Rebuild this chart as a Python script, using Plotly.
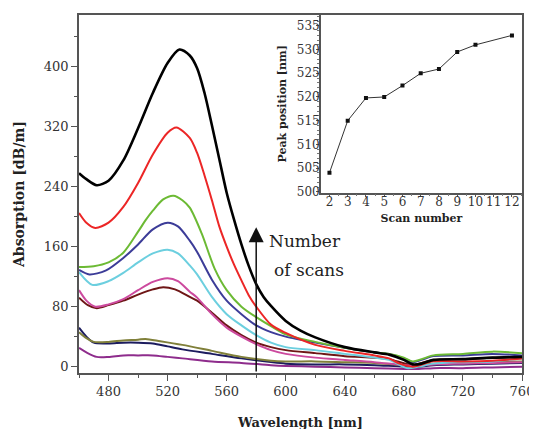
import plotly.graph_objects as go

# ---------------- data ----------------
wl_black = [460,465,472,480,490,500,510,520,528,535,540,545,550,555,560,565,570,575,580,585,590,600,610,620,640,660,670,680,686,692,700,720,740,760]
ab_black = [258,250,242,248,275,318,365,405,423,415,398,365,322,277,232,196,163,134,110,93,81,61,48,39,26,19,16,9,3,4,9,10,12,13]

wl_red = [460,465,471,480,490,500,510,520,526,535,540,545,550,555,560,565,570,575,580,590,600,620,640,660,670,677,686,700,720,740,760]
ab_red = [205,192,185,192,213,245,283,312,319,305,285,255,222,187,160,136,115,95,80,56,45,29,21,15,11,4,0,7,7,8,11]

wl_green = [460,470,480,490,500,505,510,517,524,530,535,543,552,560,570,580,590,600,620,640,660,670,680,686,692,700,720,740,760]
ab_green = [133,134,139,152,180,195,208,223,228,222,212,178,130,102,80,66,54,43,33,25,19,17,12,7,10,15,17,20,18]

wl_blue = [460,467,478,490,500,510,520,527,535,540,550,560,570,580,590,600,620,640,660,670,680,686,692,700,720,740,760]
ab_blue = [129,123,128,145,163,183,192,187,168,153,116,88,70,55,46,40,32,25,19,17,11,6,9,14,15,17,15]

wl_cyan = [460,469,480,490,500,510,520,527,535,540,550,560,570,580,590,600,620,640,660,670,682,690,700,720,740,760]
ab_cyan = [126,109,114,125,139,151,156,151,135,123,93,70,55,42,32,26,22,17,12,9,-2,0,4,6,7,11]

wl_pink = [460,465,471,480,490,500,510,520,527,535,540,550,560,570,580,590,600,620,640,660,680,690,700,720,740,760]
ab_pink = [102,88,80,83,90,102,113,118,114,100,92,70,52,40,30,22,17,12,9,6,2,1,3,4,5,6]

wl_brown = [460,466,472,480,490,500,510,517,525,535,540,550,560,570,580,590,600,620,640,660,670,686,692,700,720,740,760]
ab_brown = [92,82,78,82,88,96,103,106,103,93,88,72,55,42,32,26,22,18,14,12,10,2,5,9,10,12,13]

wl_olive = [460,465,470,480,490,500,505,515,530,550,570,590,600,620,640,660,680,690,700,720,740,760]
ab_olive = [46,38,33,33,35,36,37,34,29,21,13,8,7,7,6,5,2,2,4,5,6,7]

wl_navy = [460,465,470,480,490,500,510,520,530,550,570,590,600,620,640,660,680,690,700,720,740,760]
ab_navy = [52,40,32,31,32,32,31,27,23,17,11,6,4,3,3,2,0,0,2,3,4,5]

wl_purple = [460,465,472,480,490,500,510,520,530,550,570,590,600,620,640,660,680,690,700,720,740,760]
ab_purple = [25,19,13,13,15,15,15,13,11,7,5,2,1,0,-1,-2,-3,-3,-2,-2,-1,0]

scan_number = [2, 3, 4, 5, 6, 7, 8, 9, 10, 12]
peak_position = [504, 515, 519.8, 520, 522.4, 525, 525.9, 529.5, 531, 533]

x_ticks = [480, 520, 560, 600, 640, 680, 720, 760]
y_ticks = [0, 80, 160, 240, 320, 400]

curves = [
    (wl_purple, ab_purple, "#8e2c8c", 2),
    (wl_navy, ab_navy, "#1c1c5e", 2),
    (wl_olive, ab_olive, "#80803a", 2),
    (wl_brown, ab_brown, "#6e1616", 2),
    (wl_pink, ab_pink, "#cc4a9e", 2),
    (wl_cyan, ab_cyan, "#6ccfdf", 2),
    (wl_blue, ab_blue, "#3c3c98", 2),
    (wl_green, ab_green, "#6cba34", 2),
    (wl_red, ab_red, "#ec2626", 2),
    (wl_black, ab_black, "#000000", 2.6),
]

FONT = "DejaVu Serif"
fig = go.Figure()
for wl, ab, col, w in curves:
    fig.add_trace(go.Scatter(x=wl, y=ab, mode="lines",
                             line=dict(color=col, width=w, shape="spline", smoothing=0.8),
                             showlegend=False, xaxis="x", yaxis="y"))

fig.add_trace(go.Scatter(x=scan_number, y=peak_position, mode="lines+markers",
                         line=dict(color="#333333", width=1),
                         marker=dict(symbol="square", size=4, color="#111111"),
                         showlegend=False, xaxis="x2", yaxis="y2"))

axis_common = dict(showline=True, linecolor="#555555", linewidth=1.5, mirror=True,
                   ticks="outside", tickcolor="#555555", showgrid=False, zeroline=False,
                   automargin=False)

# the page body keeps its default 8px margin, so margins are offset by 8px
fig.update_layout(
    width=537, height=429,
    margin=dict(l=71, r=23.3, t=7, b=64),
    paper_bgcolor="white", plot_bgcolor="white",
    font=dict(family=FONT, color="#333333"),
    xaxis=dict(domain=[0, 1], range=[460, 760], tickvals=x_ticks,
               ticklen=6, tickwidth=1.2,
               minor=dict(dtick=20, tick0=460, ticklen=3, ticks="outside", tickcolor="#555555"),
               tickfont=dict(size=13, family=FONT),
               title=dict(text="<b>Wavelength [nm]</b>", font=dict(size=13, family=FONT, color="#222222"), standoff=20),
               **axis_common),
    yaxis=dict(domain=[0, 1], range=[-8.5, 469], tickvals=y_ticks,
               ticklen=6, tickwidth=1.2,
               minor=dict(dtick=40, tick0=0, ticklen=3, ticks="outside", tickcolor="#555555"),
               tickfont=dict(size=13, family=FONT),
               title=dict(text="<b>Absorption [dB/m]</b>", font=dict(size=14, family=FONT, color="#222222"), standoff=16),
               **axis_common),
    xaxis2=dict(domain=[0.546, 1], anchor="y2", range=[1.53, 12.55], dtick=1, tick0=2,
                ticklen=3, tickwidth=1, ticklabelstandoff=-6,
                minor=dict(dtick=0.5, ticklen=2, ticks="outside", tickcolor="#777777"),
                tickfont=dict(size=12, family=FONT),
                title=dict(text="<b>Scan number</b>", font=dict(size=11, family=FONT, color="#222222"), standoff=6),
                **axis_common),
    yaxis2=dict(domain=[0.5036, 1], anchor="x2", range=[499.8, 537.3], dtick=5, tick0=500,
                ticklen=3, tickwidth=1, ticklabelstandoff=-6,
                minor=dict(dtick=1, ticklen=2, ticks="outside", tickcolor="#777777"),
                tickfont=dict(size=12, family=FONT),
                title=dict(text="<b>Peak position [nm]</b>", font=dict(size=11, family=FONT, color="#222222"), standoff=8),
                **axis_common),
)

# arrow "Number of scans"
fig.add_annotation(x=580, y=186, ax=580, ay=-8.5, xref="x", yref="y", axref="x", ayref="y",
                   text="", showarrow=True, arrowhead=2, arrowsize=2, arrowwidth=1.5,
                   arrowcolor="#111111", standoff=0)
fig.add_annotation(x=587.5, y=167, xref="x", yref="y", text="Number", showarrow=False,
                   xanchor="left", yanchor="middle", font=dict(size=17, family=FONT, color="#222222"))
fig.add_annotation(x=591, y=129, xref="x", yref="y", text="of scans", showarrow=False,
                   xanchor="left", yanchor="middle", font=dict(size=17, family=FONT, color="#222222"))

fig.write_html("out.html")
